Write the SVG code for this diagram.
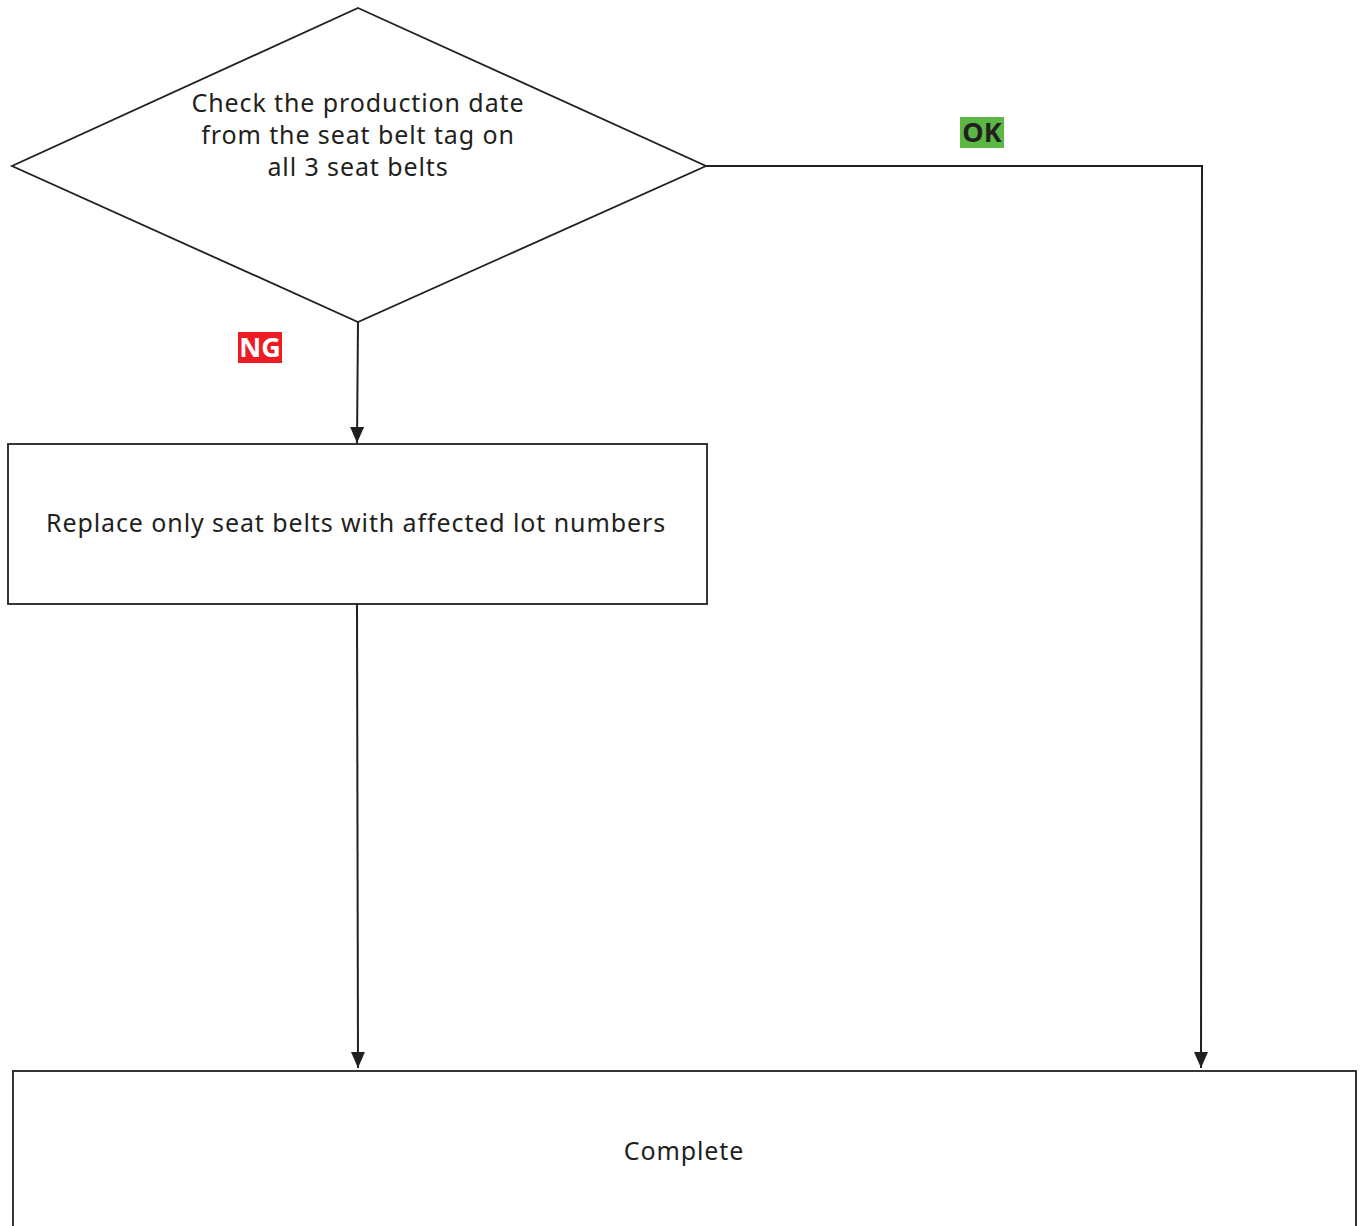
<svg xmlns="http://www.w3.org/2000/svg" width="1364" height="1226" viewBox="0 0 1364 1226">
<defs>
<style>
.shape{fill:#ffffff;stroke:#231f20;stroke-width:1.8}
.line{fill:none;stroke:#231f20;stroke-width:2}
.txt{font-family:"Noto Sans","Open Sans",sans-serif;font-size:25px;letter-spacing:0.9px;fill:#231f20;text-anchor:middle}
.lbl{font-family:"Noto Sans","DejaVu Sans",sans-serif;font-size:27px;font-weight:bold;text-anchor:middle}
</style>
<marker id="ah" viewBox="0 0 16 14" refX="16" refY="7" markerWidth="16" markerHeight="14" markerUnits="userSpaceOnUse" orient="auto">
<path d="M0,0 L16,7 L0,14 Z" fill="#231f20"/>
</marker>
</defs>
<rect width="1364" height="1226" fill="#ffffff"/>
<g id="connectors">
<line class="line" x1="358" y1="322" x2="357" y2="443" marker-end="url(#ah)"/>
<line class="line" x1="357" y1="604" x2="358" y2="1068" marker-end="url(#ah)"/>
<polyline class="line" points="706,166 1202,166 1201,1068" marker-end="url(#ah)"/>
</g>
<g id="decision">
<polygon class="shape" points="358,8 706,166 358,322 12,166"/>
<text class="txt" x="358" y="112">Check the production date</text>
<text class="txt" x="358" y="144">from the seat belt tag on</text>
<text class="txt" x="358" y="176">all 3 seat belts</text>
</g>
<g id="label-ng">
<rect x="238" y="332" width="44" height="31" fill="#ed1c24"/>
<text class="lbl" x="260" y="357" fill="#ffffff">NG</text>
</g>
<g id="label-ok">
<rect x="960" y="117" width="44" height="31" fill="#5bb843"/>
<text class="lbl" x="982" y="142" fill="#231f20">OK</text>
</g>
<g id="replace">
<rect class="shape" x="8" y="444" width="699" height="160"/>
<text class="txt" x="356" y="532">Replace only seat belts with affected lot numbers</text>
</g>
<g id="complete">
<rect class="shape" x="13" y="1071" width="1343" height="170"/>
<text class="txt" x="684" y="1160">Complete</text>
</g>
</svg>
